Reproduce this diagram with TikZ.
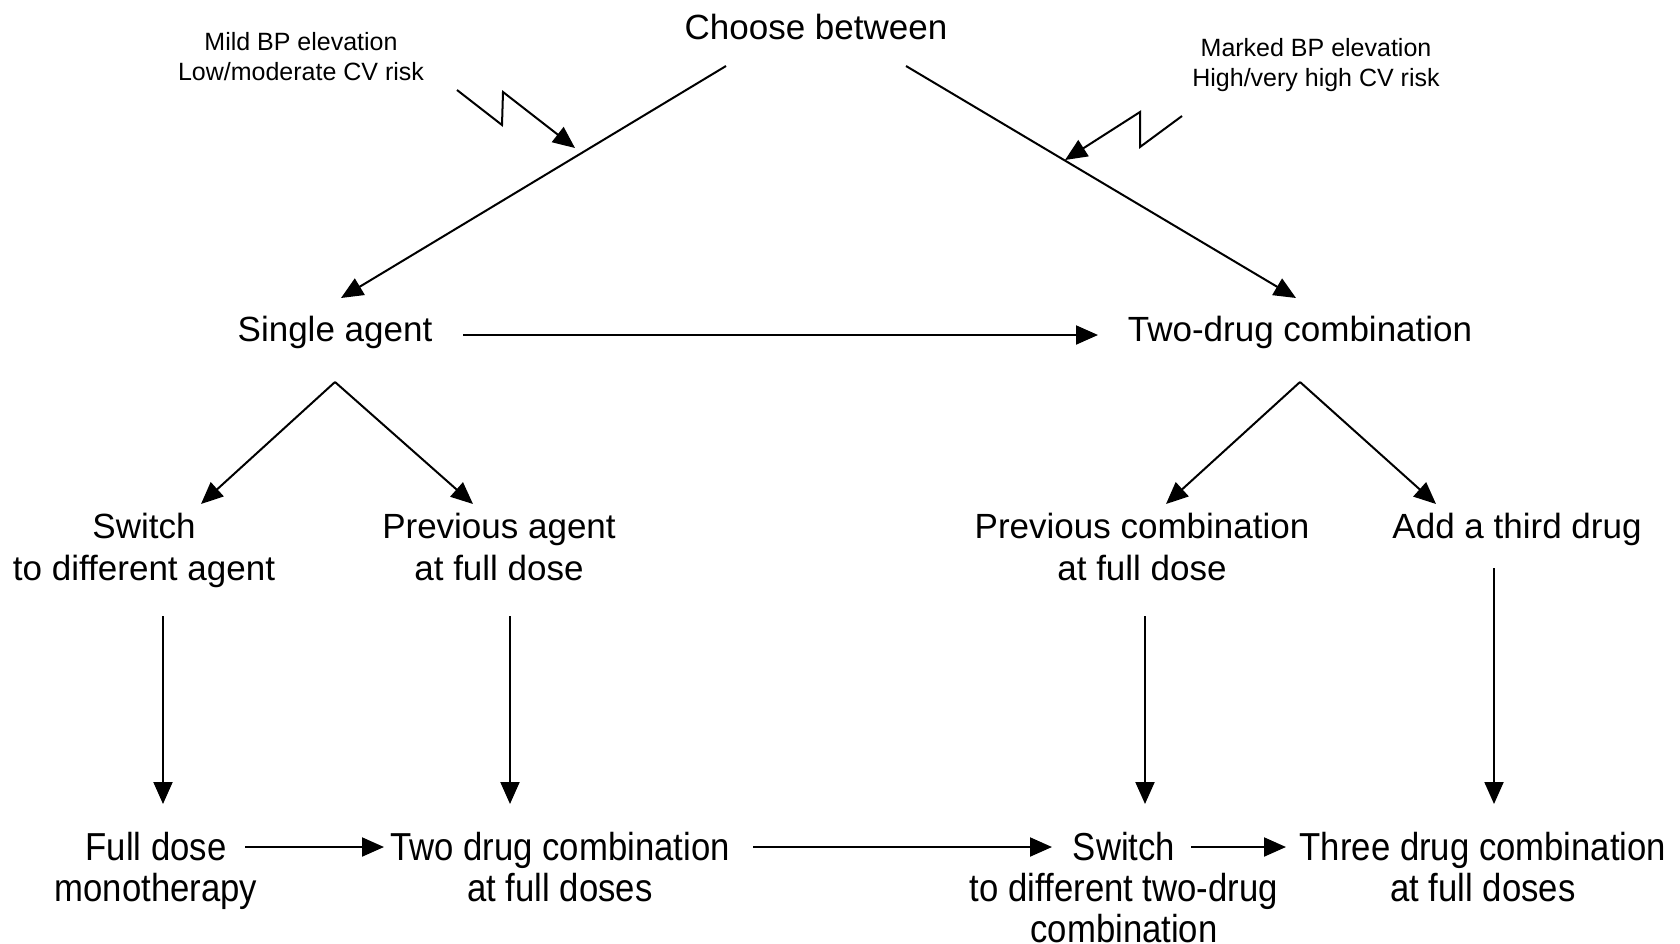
\documentclass[tikz,border=0pt]{standalone}
\usepackage{fontspec}
\setmainfont{Liberation Sans}
\newfontfamily\condfont{Liberation Sans}[FakeStretch=0.89]
\usetikzlibrary{arrows.meta,calc}
\tikzset{
  lbl/.style={inner sep=0pt, align=center, font=\fontsize{35}{42}\selectfont},
  small/.style={inner sep=0pt, align=center, font=\fontsize{25}{30}\selectfont},
  bot/.style={inner sep=0pt, align=center, font=\condfont\fontsize{39}{41}\selectfont},
  arr/.style={line width=2pt, -{Triangle[length=22pt,width=19pt]}},
  zig/.style={line width=2pt, line join=miter, -{Triangle[length=22pt,width=19pt]}}
}
\begin{document}
\begin{tikzpicture}[x=1pt,y=-1pt]
\useasboundingbox (0,0) rectangle (1680,943);
\fill[white] (0,0) rectangle (1680,943);

\node[lbl] (choose) at (816,27) {Choose between};
\node[small] (mild) at (301,57) {Mild BP elevation\\Low/moderate CV risk};
\node[small] (marked) at (1316,65) {Marked BP elevation\\High/very high CV risk};
\node[lbl] (single) at (335,332) {Single agent};
\node[lbl] (two) at (1300,332) {Two-drug combination};
\node[lbl] (switchA) at (144,550) {Switch\\to different agent};
\node[lbl] (prevA) at (499,547) {Previous agent\\at full dose};
\node[lbl] (prevC) at (1142,547) {Previous combination\\at full dose};
\node[lbl] (third) at (1517,529) {Add a third drug};
\node[bot] (fullmono) at (156,871) {Full dose\\monotherapy};
\node[bot] (twofull) at (560,867) {Two drug combination\\at full doses};
\node[bot] (switchC) at (1124,888) {Switch\\to different two-drug\\combination};
\node[bot] (threefull) at (1483,867) {Three drug combination\\at full doses};

\draw[arr] ($(choose)+(-90,39)$) -- ($(single)+(6,-34)$);
\draw[arr] ($(choose)+(90,39)$) -- ($(two)+(-4,-34)$);
\draw[arr] ($(single)+(128,3)$) -- ($(two)+(-202,3)$);
\draw[arr] ($(single)+(0,50)$) -- ($(switchA)+(57,-46)$);
\draw[arr] ($(single)+(0,50)$) -- ($(prevA)+(-26,-43)$);
\draw[arr] ($(two)+(0,50)$) -- ($(prevC)+(24,-43)$);
\draw[arr] ($(two)+(0,50)$) -- ($(third)+(-81,-25)$);
\draw[arr] ($(switchA)+(19,66)$) -- ($(fullmono)+(7,-67)$);
\draw[arr] ($(prevA)+(11,69)$) -- ($(twofull)+(-50,-63)$);
\draw[arr] ($(prevC)+(3,69)$) -- ($(switchC)+(21,-84)$);
\draw[arr] ($(third)+(-23,39)$) -- ($(threefull)+(11,-63)$);
\draw[arr] ($(fullmono)+(89,-24)$) -- ($(twofull)+(-176,-20)$);
\draw[arr] ($(twofull)+(193,-20)$) -- ($(switchC)+(-72,-41)$);
\draw[arr] ($(switchC)+(67,-41)$) -- ($(threefull)+(-197,-20)$);

\draw[zig] ($(mild)+(156,33)$) -- ($(mild)+(201,68)$) -- ($(mild)+(202,35)$) -- ($(mild)+(274,91)$);
\draw[zig] ($(marked)+(-134,51)$) -- ($(marked)+(-176,82)$) -- ($(marked)+(-176,47)$) -- ($(marked)+(-251,95)$);
\end{tikzpicture}
\end{document}
